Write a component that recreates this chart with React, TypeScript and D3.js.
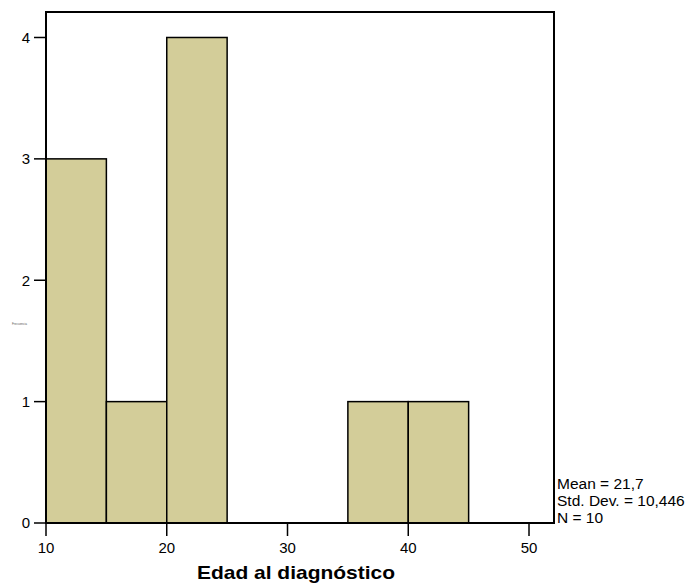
import React from "react";
import * as d3 from "d3";

const binStarts = [10, 15, 20, 25, 30, 35, 40];
const binWidth = 5;
const counts = [3, 1, 4, 0, 0, 1, 1];
const xTicks = [10, 20, 30, 40, 50];
const yTicks = [0, 1, 2, 3, 4];
const statsLines = ["Mean = 21,7", "Std. Dev. = 10,446", "N = 10"];
const xTitle = "Edad al diagnóstico";
const yTitle = "Frecuencia";

export default function App() {
  const W = 691, H = 585;
  const left = 46, right = 554, top = 12, bottom = 523;
  const x = d3.scaleLinear().domain([10, 52.07]).range([left, right]);
  const y = d3.scaleLinear().domain([0, 4.21]).range([bottom, top]);
  const font = "Arial, 'Liberation Sans', sans-serif";
  return (
    <svg width={W} height={H} style={{ position: "absolute", left: 0, top: 0 }}>
      <rect x={0} y={0} width={W} height={H} fill="#fff" />
      {binStarts.map((s, i) =>
        counts[i] > 0 ? (
          <rect
            key={i}
            x={x(s)}
            y={y(counts[i])}
            width={x(s + binWidth) - x(s)}
            height={y(0) - y(counts[i])}
            fill="#d3cd99"
            stroke="#000"
            strokeWidth={1.5}
          />
        ) : null
      )}
      <rect x={left} y={top} width={right - left} height={bottom - top} fill="none" stroke="#000" strokeWidth={2} />
      {yTicks.map((t) => (
        <g key={t}>
          <line x1={left - 12} x2={left} y1={y(t)} y2={y(t)} stroke="#000" strokeWidth={1.5} />
          <text x={30} y={y(t)} dy="0.36em" textAnchor="end" fontSize={15} fontFamily={font}>
            {t}
          </text>
        </g>
      ))}
      {xTicks.map((t) => (
        <g key={t}>
          <line x1={x(t)} x2={x(t)} y1={bottom} y2={bottom + 13} stroke="#000" strokeWidth={1.5} />
          <text x={x(t)} y={bottom + 30} textAnchor="middle" fontSize={15} fontFamily={font}>
            {t}
          </text>
        </g>
      ))}
      <text x={296} y={579} textAnchor="middle" fontSize={19} fontWeight="bold" fontFamily={font}
        textLength={198} lengthAdjust="spacingAndGlyphs">
        {xTitle}
      </text>
      <g transform="translate(12,325) scale(0.25)">
        <text x={0} y={0} fontSize={12} fill="#555" fontFamily={font}>
          {yTitle}
        </text>
      </g>
      {statsLines.map((s, i) => (
        <text key={i} x={right + 3} y={489 + i * 17} fontSize={15.5} fontFamily={font}>
          {s}
        </text>
      ))}
    </svg>
  );
}
